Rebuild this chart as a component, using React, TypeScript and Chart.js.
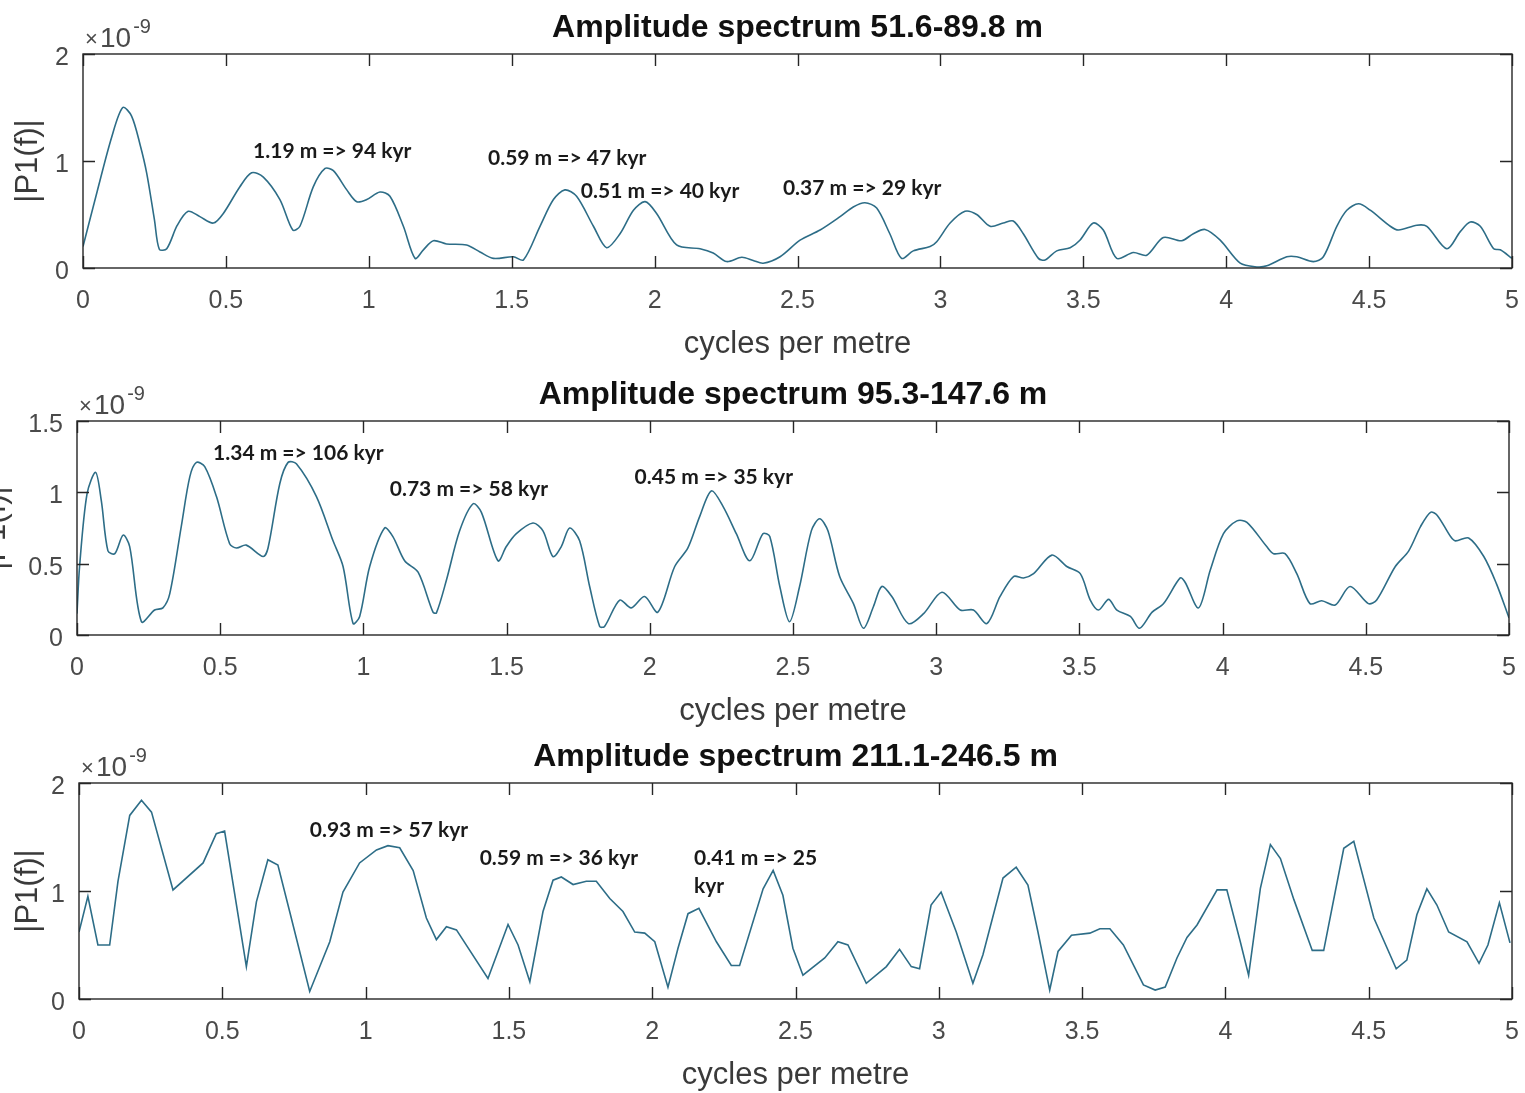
import React, { useEffect, useRef } from 'react';
import { Chart, registerables } from 'chart.js';

Chart.register(...registerables);

// ---------- data (amplitudes in units of 1e-9) ----------
const freqA = [0, 0.05, 0.1, 0.139, 0.17, 0.2, 0.223, 0.25, 0.267, 0.293, 0.33, 0.368, 0.409, 0.456, 0.491, 0.549, 0.59, 0.631, 0.689, 0.734, 0.759, 0.806, 0.847, 0.876, 0.923, 0.958, 0.993, 1.039, 1.074, 1.121, 1.162, 1.191, 1.226, 1.272, 1.342, 1.389, 1.436, 1.506, 1.541, 1.599, 1.646, 1.686, 1.727, 1.786, 1.832, 1.879, 1.926, 1.967, 2.007, 2.077, 2.159, 2.205, 2.252, 2.305, 2.345, 2.38, 2.439, 2.509, 2.579, 2.649, 2.695, 2.736, 2.777, 2.823, 2.864, 2.905, 2.964, 2.987, 3.034, 3.086, 3.127, 3.174, 3.22, 3.255, 3.29, 3.343, 3.366, 3.407, 3.454, 3.488, 3.535, 3.57, 3.617, 3.675, 3.722, 3.78, 3.844, 3.885, 3.926, 3.979, 4.049, 4.107, 4.142, 4.212, 4.247, 4.305, 4.34, 4.387, 4.422, 4.463, 4.504, 4.574, 4.603, 4.667, 4.702, 4.772, 4.819, 4.854, 4.889, 4.936, 4.959, 5.0];
const ampA = [0.2, 0.72, 1.22, 1.5, 1.42, 1.15, 0.885, 0.45, 0.175, 0.18, 0.4, 0.53, 0.48, 0.42, 0.51, 0.76, 0.89, 0.85, 0.64, 0.355, 0.39, 0.76, 0.93, 0.91, 0.73, 0.62, 0.64, 0.71, 0.67, 0.39, 0.09, 0.17, 0.255, 0.225, 0.215, 0.15, 0.09, 0.105, 0.075, 0.39, 0.64, 0.73, 0.67, 0.39, 0.19, 0.32, 0.54, 0.62, 0.51, 0.215, 0.18, 0.14, 0.06, 0.1, 0.07, 0.045, 0.105, 0.26, 0.355, 0.48, 0.57, 0.61, 0.56, 0.32, 0.09, 0.16, 0.2, 0.245, 0.42, 0.53, 0.5, 0.39, 0.42, 0.44, 0.32, 0.09, 0.075, 0.16, 0.19, 0.26, 0.42, 0.355, 0.09, 0.145, 0.12, 0.285, 0.255, 0.32, 0.36, 0.26, 0.045, 0.01, 0.02, 0.105, 0.105, 0.06, 0.105, 0.39, 0.54, 0.6, 0.54, 0.39, 0.355, 0.4, 0.39, 0.18, 0.34, 0.43, 0.39, 0.18, 0.17, 0.09];

const freqB = [0, 0.009, 0.035, 0.065, 0.085, 0.108, 0.132, 0.161, 0.184, 0.225, 0.271, 0.3, 0.324, 0.364, 0.394, 0.417, 0.446, 0.487, 0.533, 0.557, 0.591, 0.65, 0.667, 0.708, 0.737, 0.766, 0.836, 0.894, 0.929, 0.964, 0.987, 1.022, 1.074, 1.103, 1.144, 1.191, 1.243, 1.255, 1.29, 1.336, 1.383, 1.412, 1.47, 1.499, 1.534, 1.592, 1.627, 1.662, 1.691, 1.72, 1.755, 1.79, 1.825, 1.842, 1.895, 1.935, 1.982, 2.028, 2.087, 2.133, 2.174, 2.215, 2.256, 2.302, 2.349, 2.395, 2.419, 2.454, 2.488, 2.523, 2.564, 2.593, 2.622, 2.663, 2.711, 2.746, 2.781, 2.81, 2.845, 2.903, 2.956, 3.02, 3.084, 3.13, 3.177, 3.223, 3.27, 3.305, 3.34, 3.404, 3.456, 3.503, 3.538, 3.567, 3.602, 3.631, 3.678, 3.71, 3.754, 3.794, 3.852, 3.869, 3.916, 3.957, 4.003, 4.05, 4.085, 4.154, 4.178, 4.218, 4.259, 4.305, 4.346, 4.393, 4.445, 4.509, 4.538, 4.603, 4.65, 4.691, 4.726, 4.749, 4.796, 4.813, 4.859, 4.912, 4.956, 5.0];
const ampB = [0.15, 0.48, 0.99, 1.14, 0.94, 0.59, 0.57, 0.7, 0.62, 0.093, 0.175, 0.19, 0.29, 0.76, 1.11, 1.21, 1.18, 0.97, 0.64, 0.61, 0.63, 0.55, 0.61, 1.06, 1.21, 1.2, 0.97, 0.66, 0.48, 0.08, 0.13, 0.48, 0.75, 0.69, 0.52, 0.44, 0.16, 0.155, 0.385, 0.73, 0.92, 0.86, 0.52, 0.62, 0.71, 0.785, 0.73, 0.55, 0.62, 0.75, 0.66, 0.34, 0.06, 0.06, 0.245, 0.19, 0.27, 0.16, 0.48, 0.61, 0.83, 1.01, 0.9, 0.71, 0.52, 0.71, 0.69, 0.34, 0.093, 0.34, 0.73, 0.815, 0.73, 0.41, 0.22, 0.047, 0.2, 0.34, 0.27, 0.08, 0.15, 0.3, 0.175, 0.175, 0.08, 0.27, 0.41, 0.4, 0.43, 0.56, 0.48, 0.43, 0.245, 0.175, 0.25, 0.175, 0.13, 0.047, 0.16, 0.22, 0.4, 0.37, 0.19, 0.455, 0.71, 0.8, 0.79, 0.62, 0.57, 0.57, 0.43, 0.22, 0.24, 0.21, 0.34, 0.22, 0.245, 0.48, 0.59, 0.76, 0.86, 0.84, 0.69, 0.66, 0.68, 0.55, 0.36, 0.12];

const freqC = [0, 0.031, 0.066, 0.107, 0.136, 0.177, 0.218, 0.253, 0.328, 0.433, 0.479, 0.508, 0.584, 0.619, 0.659, 0.694, 0.735, 0.805, 0.875, 0.921, 0.979, 1.038, 1.078, 1.119, 1.166, 1.212, 1.247, 1.282, 1.317, 1.427, 1.497, 1.532, 1.573, 1.619, 1.654, 1.683, 1.724, 1.77, 1.805, 1.852, 1.898, 1.939, 1.974, 2.009, 2.055, 2.09, 2.125, 2.163, 2.224, 2.276, 2.305, 2.387, 2.422, 2.456, 2.491, 2.526, 2.602, 2.648, 2.683, 2.747, 2.817, 2.863, 2.904, 2.933, 2.973, 3.008, 3.061, 3.119, 3.154, 3.224, 3.27, 3.311, 3.346, 3.387, 3.416, 3.463, 3.527, 3.562, 3.597, 3.644, 3.714, 3.755, 3.79, 3.831, 3.866, 3.901, 3.971, 4.005, 4.052, 4.081, 4.122, 4.157, 4.192, 4.239, 4.303, 4.343, 4.413, 4.448, 4.518, 4.596, 4.633, 4.668, 4.703, 4.738, 4.779, 4.843, 4.885, 4.916, 4.956, 4.993];
const ampC = [0.62, 0.95, 0.5, 0.5, 1.09, 1.7, 1.84, 1.73, 1.01, 1.26, 1.53, 1.555, 0.3, 0.9, 1.29, 1.24, 0.81, 0.07, 0.53, 0.99, 1.26, 1.38, 1.42, 1.4, 1.19, 0.75, 0.55, 0.67, 0.64, 0.19, 0.69, 0.5, 0.16, 0.81, 1.1, 1.13, 1.06, 1.09, 1.09, 0.93, 0.81, 0.62, 0.61, 0.53, 0.11, 0.47, 0.79, 0.84, 0.53, 0.31, 0.31, 1.02, 1.19, 0.96, 0.47, 0.22, 0.38, 0.53, 0.5, 0.145, 0.3, 0.46, 0.3, 0.28, 0.87, 0.99, 0.62, 0.145, 0.41, 1.12, 1.22, 1.055, 0.62, 0.083, 0.44, 0.59, 0.61, 0.65, 0.65, 0.5, 0.13, 0.083, 0.11, 0.38, 0.57, 0.685, 1.01, 1.01, 0.53, 0.22, 1.025, 1.43, 1.3, 0.92, 0.45, 0.45, 1.395, 1.46, 0.75, 0.28, 0.36, 0.78, 1.02, 0.87, 0.62, 0.53, 0.33, 0.5, 0.89, 0.52];

const titles = [
  'Amplitude spectrum 51.6-89.8 m',
  'Amplitude spectrum 95.3-147.6 m',
  'Amplitude spectrum 211.1-246.5 m',
];
const yMaxes = [2, 1.5, 2];
const yStepSizes = [1, 0.5, 1];
const xMax = 5;
const xStep = 0.5;
const xAxisLabel = 'cycles per metre';
const yAxisLabel = '|P1(f)|';
const exponentTimes = '\u00d7';
const exponentBase = '10';
const exponentPower = '-9';

// peak annotations: text, anchor frequency, anchor amplitude (x1e-9)
const notesA = [
  { text: '1.19 m => 94 kyr', f: 0.595, a: 1.093 },
  { text: '0.59 m => 47 kyr', f: 1.417, a: 1.028 },
  { text: '0.51 m => 40 kyr', f: 1.742, a: 0.722 },
  { text: '0.37 m => 29 kyr', f: 2.449, a: 0.745 },
];
const notesB = [
  { text: '1.34 m => 106 kyr', f: 0.475, a: 1.275 },
  { text: '0.73 m => 58 kyr', f: 1.092, a: 1.019 },
  { text: '0.45 m => 35 kyr', f: 1.947, a: 1.107 },
];
const notesC = [
  { text: '0.93 m => 57 kyr', f: 0.805, a: 1.565 },
  { text: '0.59 m => 36 kyr', f: 1.398, a: 1.303 },
  { text: '0.41 m => 25\nkyr', f: 2.146, a: 1.303 },
];

const series = [
  { freq: freqA, amp: ampA, notes: notesA },
  { freq: freqB, amp: ampB, notes: notesB },
  { freq: freqC, amp: ampC, notes: notesC },
];

// ---------- layout & style ----------
const W = 1525;
const layouts = [
  { top: 0, height: 365, left: 83, right: 1512, plotTop: 54, plotBottom: 268, yLabelX: 28, tension: 0.3 },
  { top: 365, height: 365, left: 77, right: 1509, plotTop: 56, plotBottom: 270, yLabelX: -4, tension: 0.3 },
  { top: 730, height: 363, left: 79, right: 1512, plotTop: 53, plotBottom: 269, yLabelX: 28, tension: 0 },
];
const LINE_COLOR = '#2d6d87';
const AXIS_COLOR = '#262626';
const TICK_TEXT = '#4a4a4a';
const LABEL_TEXT = '#3a3a3a';
const SANS = '"Liberation Sans", Arial, sans-serif';
const NOTE_FONT = 'bold 21px Lato, "Open Sans", sans-serif';
const TICK_LEN = 12;
const fmt = (v: any) => String(Number(v));

function Panel({ idx }: { idx: number }) {
  const ref = useRef<HTMLCanvasElement | null>(null);
  const L = layouts[idx];
  useEffect(() => {
    const canvas = ref.current;
    if (!canvas) return;
    const s = series[idx];
    const points = s.freq.map((f, i) => ({ x: f, y: s.amp[i] }));

    const decor = {
      id: 'matlabDecor',
      afterDraw(chart: any) {
        const { ctx, chartArea: a, scales } = chart;
        const xs = scales.x;
        const ys = scales.y;
        ctx.save();
        // axes box
        ctx.strokeStyle = AXIS_COLOR;
        ctx.lineWidth = 1.4;
        ctx.strokeRect(a.left, a.top, a.right - a.left, a.bottom - a.top);
        // inward tick marks on all sides
        ctx.beginPath();
        xs.ticks.forEach((t: any) => {
          const px = Math.round(xs.getPixelForValue(t.value)) + 0.5;
          ctx.moveTo(px, a.bottom);
          ctx.lineTo(px, a.bottom - TICK_LEN);
          ctx.moveTo(px, a.top);
          ctx.lineTo(px, a.top + TICK_LEN);
        });
        ys.ticks.forEach((t: any) => {
          const py = Math.round(ys.getPixelForValue(t.value)) + 0.5;
          ctx.moveTo(a.left, py);
          ctx.lineTo(a.left + TICK_LEN, py);
          ctx.moveTo(a.right, py);
          ctx.lineTo(a.right - TICK_LEN, py);
        });
        ctx.stroke();

        const cx = (a.left + a.right) / 2;
        // title
        ctx.fillStyle = '#111';
        ctx.font = 'bold 32px ' + SANS;
        ctx.textAlign = 'center';
        ctx.textBaseline = 'alphabetic';
        ctx.fillText(titles[idx], cx, a.top - 17);
        // x axis label
        ctx.fillStyle = LABEL_TEXT;
        ctx.font = '31px ' + SANS;
        ctx.fillText(xAxisLabel, cx, a.bottom + 85);
        // y axis label
        ctx.save();
        ctx.translate(L.yLabelX, (a.top + a.bottom) / 2);
        ctx.rotate(-Math.PI / 2);
        ctx.textBaseline = 'middle';
        ctx.font = '31px ' + SANS;
        ctx.fillText(yAxisLabel, 0, 0);
        ctx.restore();
        // exponent  (x10^-9)
        ctx.fillStyle = TICK_TEXT;
        ctx.textAlign = 'left';
        ctx.font = '22px ' + SANS;
        ctx.fillText(exponentTimes, a.left + 2, a.top - 8);
        ctx.font = '28px ' + SANS;
        ctx.fillText(exponentBase, a.left + 17, a.top - 7);
        const bw = ctx.measureText(exponentBase).width;
        ctx.font = '20px ' + SANS;
        ctx.fillText(exponentPower, a.left + 19 + bw, a.top - 21);
        // annotations
        ctx.fillStyle = '#1a1a1a';
        ctx.font = NOTE_FONT;
        ctx.textBaseline = 'middle';
        s.notes.forEach((n) => {
          const px = xs.getPixelForValue(n.f);
          const py = ys.getPixelForValue(n.a);
          n.text.split('\n').forEach((line, li) => {
            ctx.fillText(line, px, py + li * 28);
          });
        });
        ctx.restore();
      },
    };

    const chart = new Chart(canvas, {
      type: 'line',
      data: {
        datasets: [
          {
            data: points,
            borderColor: LINE_COLOR,
            borderWidth: 1.6,
            pointRadius: 0,
            tension: L.tension,
            fill: false,
          },
        ],
      },
      options: {
        responsive: false,
        animation: false,
        layout: {
          padding: { top: L.plotTop, left: 0, right: W - L.right, bottom: 0 },
        },
        plugins: {
          legend: { display: false },
          title: { display: false },
          tooltip: { enabled: false },
        },
        scales: {
          x: {
            type: 'linear',
            min: 0,
            max: xMax,
            grid: { display: false, drawTicks: false },
            border: { display: false },
            ticks: {
              stepSize: xStep,
              padding: 18,
              color: TICK_TEXT,
              font: { family: SANS, size: 25 },
              maxRotation: 0,
              autoSkip: false,
              callback: fmt,
            },
            afterFit: (sc: any) => {
              sc.height = L.height - L.plotBottom;
              sc.paddingLeft = 0;
              sc.paddingRight = 0;
            },
          },
          y: {
            type: 'linear',
            min: 0,
            max: yMaxes[idx],
            grid: { display: false, drawTicks: false },
            border: { display: false },
            ticks: {
              stepSize: yStepSizes[idx],
              padding: 14,
              labelOffset: 4,
              color: TICK_TEXT,
              font: { family: SANS, size: 25 },
              callback: fmt,
            },
            afterFit: (sc: any) => {
              sc.width = L.left;
              sc.paddingTop = 0;
              sc.paddingBottom = 0;
            },
          },
        },
      },
      plugins: [decor],
    } as any);
    return () => chart.destroy();
  }, [idx]);

  return (
    <canvas
      ref={ref}
      width={W}
      height={L.height}
      style={{ position: 'absolute', left: 0, top: L.top, width: W, height: L.height }}
    />
  );
}

export default function App() {
  return (
    <div style={{ position: 'absolute', left: 0, top: 0, width: W, height: 1093, background: '#fff', overflow: 'hidden' }}>
      <Panel idx={0} />
      <Panel idx={1} />
      <Panel idx={2} />
    </div>
  );
}
